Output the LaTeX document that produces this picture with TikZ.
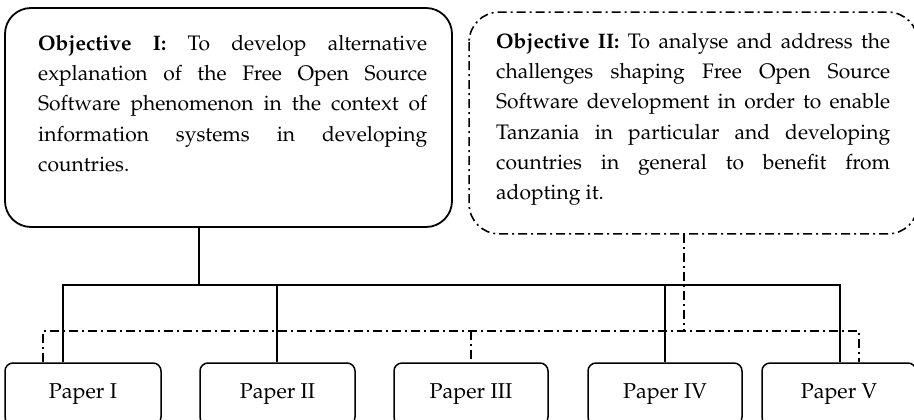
\documentclass[tikz,border=0pt]{standalone}
\usepackage[T1]{fontenc}
\usepackage{mathpazo}
\begin{document}
\begin{tikzpicture}[x=1pt,y=-1pt,
  solidln/.style={line width=1.8pt},
  dashln/.style={line width=1.6pt,dash pattern=on 9pt off 4pt on 2pt off 4pt},
  bigbox/.style={draw,line width=1.8pt,rounded corners=26pt,inner sep=0pt},
  paperbox/.style={draw,line width=1.5pt,rounded corners=8pt,minimum width=#1,minimum height=62pt,inner sep=0pt,font=\fontsize{21.5}{24}\selectfont},
  objtext/.style={inner sep=0pt,anchor=north west,align=justify,font=\fontsize{21}{30.3}\selectfont}]
\useasboundingbox (0,0) rectangle (914,420);
\clip (0,0) rectangle (914,420);
% objective boxes
\node[bigbox,minimum width=447pt,minimum height=219pt] (objI) at (228.5,117.5) {};
\node[bigbox,draw=none,minimum width=447pt,minimum height=220pt] (objII) at (693.5,123) {};
\draw[dashln,rounded corners=30pt] (objII.north west) rectangle (objII.south east);
\node[objtext,text width=389pt] (objItext) at (38,35) {\textbf{Objective I:} To develop alternative\linebreak explanation of the Free Open Source\linebreak Software phenomenon in the context of\linebreak information systems in developing\linebreak countries.};
\node[objtext,text width=394pt] (objIItext) at (496,33) {\textbf{Objective II:} To analyse and address the\linebreak challenges shaping Free Open Source\linebreak Software development in order to enable\linebreak Tanzania in particular and developing\linebreak countries in general to benefit from\linebreak adopting it.};
% paper boxes
\node[paperbox=156pt] (p1) at (83,394) {Paper I};
\node[paperbox=155pt] (p2) at (277.5,394) {Paper II};
\node[paperbox=154pt] (p3) at (471,394) {Paper III};
\node[paperbox=154pt] (p4) at (665,394) {Paper IV};
\node[paperbox=154pt] (p5) at (839,394) {Paper V};
% solid tree
\coordinate (j1) at (199,285);
\coordinate (s1) at (63,285);
\coordinate (s2) at (277,285);
\coordinate (s4) at (665,285);
\coordinate (s5) at (840,285);
\draw[solidln] (objI.south -| j1) -- (j1);
\draw[solidln] (s1 |- p1.north) -- (s1) -- (s5) -- (s5 |- p5.north);
\draw[solidln] (s2) -- (s2 |- p2.north);
\draw[solidln] (s4) -- (s4 |- p4.north);
% dash-dot tree
\coordinate (d0) at (684,331);
\coordinate (d1) at (43,331);
\coordinate (d3) at (471,331);
\coordinate (d5) at (859,331);
\draw[dashln] (objII.south -| d0) -- (d0);
\draw[dashln] (d1 |- p1.north) -- (d1) -- (d5) -- (d5 |- p5.north);
\draw[dashln] (d3) -- (d3 |- p3.north);
\end{tikzpicture}
\end{document}
